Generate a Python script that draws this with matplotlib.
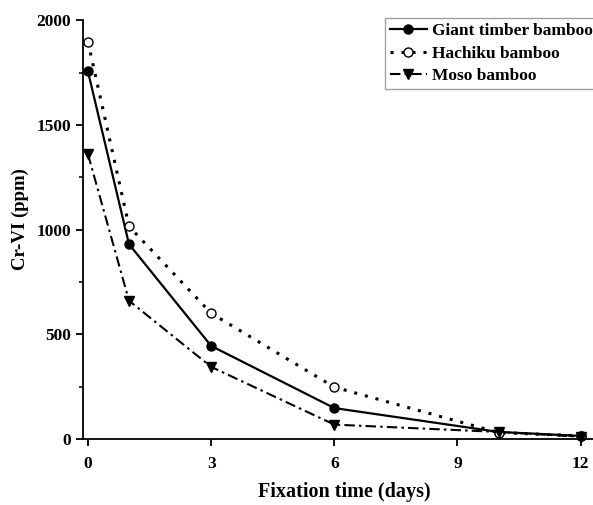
import numpy as np
import matplotlib.pyplot as plt
from matplotlib.ticker import MultipleLocator

plt.rcParams['font.family'] = ['Liberation Serif', 'DejaVu Serif']
plt.rcParams['font.weight'] = 'bold'

# data
days = [0, 1, 3, 6, 10, 12]
giant = [1755, 930, 444, 147, 33, 14]
hachiku = [1897, 1015, 600, 247, 30, 14]
moso = [1360, 660, 344, 68, 33, 10]

fig = plt.figure(figsize=(5.93, 5.05), dpi=100)
ax = fig.add_axes([0.140, 0.131, 0.860, 0.829])

ax.plot(days, giant, '-', color='black', lw=1.6, marker='o', ms=6.5,
        mfc='black', clip_on=False, label='Giant timber bamboo')
ax.plot(days, hachiku, linestyle=(0, (1, 2.6)), color='black', lw=2.2, marker='o', ms=6.5,
        mfc='white', mec='black', mew=1.0, clip_on=False, label='Hachiku bamboo')
ax.plot(days, moso, linestyle=(0, (5, 2, 1.2, 2)), color='black', lw=1.5, marker='v', ms=6.5,
        mfc='black', clip_on=False, label='Moso bamboo')

ax.set_xlim(-0.12, 12.3)
ax.set_ylim(0, 2000)
ax.set_xticks([0, 3, 6, 9, 12])
ax.set_yticks([0, 500, 1000, 1500, 2000])
ax.yaxis.set_minor_locator(MultipleLocator(250))
ax.xaxis.set_minor_locator(MultipleLocator(1.5))

for s in ['top', 'right']:
    ax.spines[s].set_visible(False)
for s in ['left', 'bottom']:
    ax.spines[s].set_linewidth(1.3)

ax.tick_params(which='major', direction='out', length=5, width=1.3, labelsize=12.5)
ax.tick_params(axis='x', which='major', pad=7)
ax.tick_params(which='minor', direction='out', length=3, width=1.1)
ax.tick_params(axis='x', which='minor', length=0)

# axis titles placed in figure pixels
fig.text(344 / 593, 1 - 492 / 505, 'Fixation time (days)', fontsize=14.5,
         fontweight='bold', ha='center', va='center')
fig.text(20 / 593, 1 - 219 / 505, 'Cr-VI (ppm)', fontsize=13.5,
         fontweight='bold', ha='center', va='center', rotation=90)

leg = ax.legend(loc='upper left', bbox_to_anchor=(385 / 593, 1 - 18 / 505),
                bbox_transform=fig.transFigure, fontsize=12.5, frameon=True,
                fancybox=False, edgecolor='#888888', handlelength=2.1,
                handletextpad=0.3, borderpad=0.3, labelspacing=0.35,
                borderaxespad=0)
leg.get_frame().set_linewidth(1.0)

fig.savefig('out.png', dpi=100)
